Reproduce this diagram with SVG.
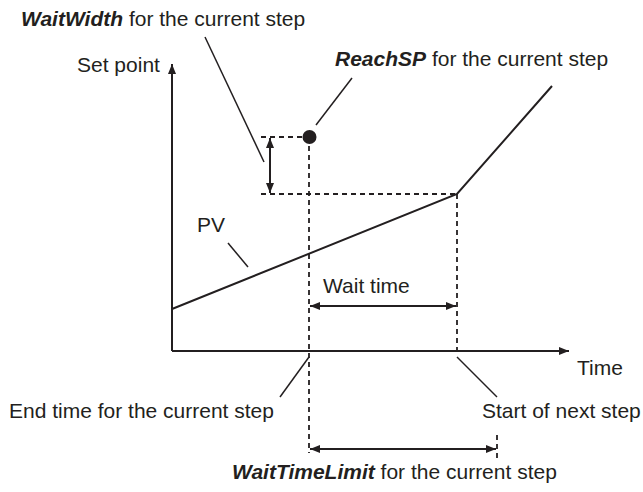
<svg xmlns="http://www.w3.org/2000/svg" width="643" height="492" viewBox="0 0 643 492">
<defs>
<style>
text{font-family:"Liberation Sans",Arial,sans-serif;font-size:21px;fill:#231f20}
.b{font-weight:bold;font-style:italic}
.s{stroke:#231f20;stroke-width:2;fill:none}
.t{stroke:#231f20;stroke-width:1.5;fill:none}
.d{stroke:#231f20;stroke-width:1.8;fill:none;stroke-dasharray:5 4}
</style>
<marker id="ah" viewBox="0 0 10 8" refX="10" refY="4" markerWidth="10" markerHeight="8" markerUnits="userSpaceOnUse" orient="auto-start-reverse">
<path d="M0,0 L10,4 L0,8 Z" fill="#231f20"/>
</marker>
</defs>
<g id="connectors">
<line class="s" x1="172" y1="351" x2="172" y2="64" marker-end="url(#ah)"/>
<line class="s" x1="172" y1="351" x2="569" y2="351" marker-end="url(#ah)"/>
<polyline class="s" points="172,309 457,194 552,86"/>
<line class="d" x1="261" y1="137" x2="309" y2="137"/>
<line class="d" x1="261" y1="194" x2="457" y2="194"/>
<line class="d" x1="309" y1="137" x2="309" y2="453"/>
<line class="d" x1="457" y1="194" x2="457" y2="351"/>
<line class="d" x1="497" y1="435" x2="497" y2="462"/>
<line class="s" x1="270" y1="138" x2="270" y2="193" marker-start="url(#ah)" marker-end="url(#ah)"/>
<line class="s" x1="310" y1="306" x2="456" y2="306" marker-start="url(#ah)" marker-end="url(#ah)"/>
<line class="s" x1="310" y1="449" x2="496" y2="449" marker-start="url(#ah)" marker-end="url(#ah)"/>
<line class="t" x1="205" y1="37" x2="264" y2="162"/>
<line class="t" x1="352" y1="78" x2="316" y2="125"/>
<line class="t" x1="228" y1="243" x2="248" y2="267"/>
<line class="t" x1="309" y1="357" x2="280" y2="397"/>
<line class="t" x1="457" y1="357" x2="497" y2="397"/>
</g>
<g id="reachsp-point"><circle cx="309.5" cy="137" r="7" fill="#231f20"/></g>
<g id="label-waitwidth"><text x="21" y="26"><tspan class="b">WaitWidth</tspan> for the current step</text></g>
<g id="label-setpoint"><text x="77" y="72">Set point</text></g>
<g id="label-reachsp"><text x="335" y="66"><tspan class="b">ReachSP</tspan> for the current step</text></g>
<g id="label-pv"><text x="197" y="232">PV</text></g>
<g id="label-waittime"><text x="323" y="293">Wait time</text></g>
<g id="label-time"><text x="577" y="375">Time</text></g>
<g id="label-endtime"><text x="9" y="418">End time for the current step</text></g>
<g id="label-start"><text x="482" y="418">Start of next step</text></g>
<g id="label-waittimelimit"><text x="232" y="479"><tspan class="b">WaitTimeLimit</tspan> for the current step</text></g>
</svg>
